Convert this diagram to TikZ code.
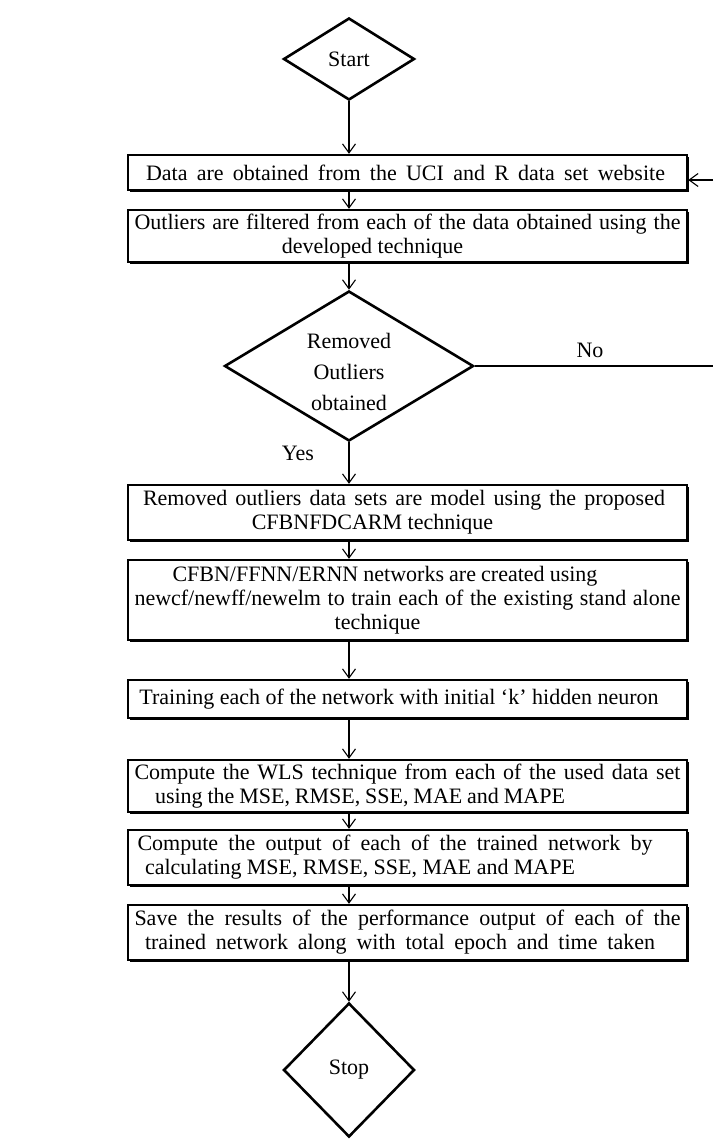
\documentclass[tikz,border=0pt]{standalone}
\usepackage{fontspec}
\setmainfont{Liberation Serif}
\usetikzlibrary{arrows.meta,shapes.geometric,shadows}
\newcommand\jline[2][546pt]{\makebox[#1][s]{#2}}
\newcommand\sline[2]{\makebox[546pt][c]{\hspace{#1}#2}}
\newcommand\wline[3]{\makebox[546pt][c]{\hspace{#1}\makebox[#2][s]{#3}}}
\begin{document}
\begin{tikzpicture}[x=1pt,y=-1pt,
  every node/.style={font=\fontsize{22}{24}\selectfont},
  procbox/.style={draw, line width=2.4pt, fill=white, minimum width=559pt, inner sep=0pt, align=center,
    drop shadow={shadow xshift=1.6pt,shadow yshift=-1.6pt,opacity=1,fill=black}},
  dia/.style={draw, diamond, line width=2.6pt, inner sep=0pt, fill=white},
  conn/.style={line width=1.1pt},
  arr/.style={conn, -{Straight Barb[length=9pt,width=13pt]}},
  lbl/.style={inner sep=0pt, align=center, font=\fontsize{22}{31}\selectfont},
]
\useasboundingbox (0,0) rectangle (713,1141);

% decision / terminal shapes
\node[dia, minimum width=131pt, minimum height=82pt] (start) at (349,59) {};
\node[lbl] (starttxt) at (start.center) {Start};

\node[dia, minimum width=249pt, minimum height=150pt] (dec) at (349,366) {};
\node[lbl] (dectxt) at (349,372) {Removed\\Outliers\\obtained};

\node[dia, minimum width=131pt, minimum height=134pt] (stop) at (349,1070) {};
\node[lbl] (stoptxt) at (stop.center) {Stop};

% process boxes
\node[procbox, minimum height=35pt] (b1) at (407.5,172.5)
  {\wline{-4pt}{519pt}{Data are obtained from the UCI and R data set website}};
\node[procbox, minimum height=52pt] (b2) at (407.5,236)
  {\jline{Outliers are filtered from each of the data obtained using the}\\\sline{-70pt}{developed technique}};
\node[procbox, minimum height=55pt] (b3) at (407.5,512.5)
  {\wline{-7pt}{522pt}{Removed outliers data sets are model using the proposed}\\\sline{-70pt}{CFBNFDCARM technique}};
\node[procbox, minimum height=80pt] (b4) at (407.5,600)
  {\wline{-45pt}{425pt}{CFBN/FFNN/ERNN networks are created using}\\\jline{newcf/newff/newelm to train each of the existing stand alone}\\\sline{-60pt}{technique}};
\node[procbox, minimum height=38pt] (b5) at (407.5,699)
  {\sline{-17pt}{Training each of the network with initial ‘k’ hidden neuron}};
\node[procbox, minimum height=52pt] (b6) at (407.5,786)
  {\jline{Compute the WLS technique from each of the used data set}\\\wline{-95pt}{410pt}{using the MSE, RMSE, SSE, MAE and MAPE}};
\node[procbox, minimum height=55pt] (b7) at (407.5,857.5)
  {\wline{-25pt}{515pt}{Compute the output of each of the trained network by}\\\wline{-95pt}{430pt}{calculating MSE, RMSE, SSE, MAE and MAPE}};
\node[procbox, minimum height=55pt] (b8) at (407.5,932.5)
  {\jline{Save the results of the performance output of each of the}\\\wline{-15pt}{510pt}{trained network along with total epoch and time taken}};

% labels
\node[lbl] (yes) at (298,453) {Yes};
\node[lbl] (no) at (590,350) {No};

% connectors
\draw[arr] (start.south) -- (start.south |- b1.north);
\draw[arr] (start.south |- b1.south) -- (start.south |- b2.north);
\draw[arr] (start.south |- b2.south) -- (dec.north);
\draw[arr] (dec.south) -- (dec.south |- b3.north);
\draw[arr] (dec.south |- b3.south) -- (dec.south |- b4.north);
\draw[arr] (dec.south |- b4.south) -- (dec.south |- b5.north);
\draw[arr] (dec.south |- b5.south) -- (dec.south |- b6.north);
\draw[arr] (dec.south |- b6.south) -- (dec.south |- b7.north);
\draw[arr] (dec.south |- b7.south) -- (dec.south |- b8.north);
\draw[arr] (stop.north |- b8.south) -- (stop.north);

\coordinate (noend) at (713,366);
\coordinate (fbin) at (713,180);
\draw[conn] (dec.east) -- (noend);
\draw[arr] (fbin) -- (b1.east |- fbin);
\end{tikzpicture}
\end{document}
